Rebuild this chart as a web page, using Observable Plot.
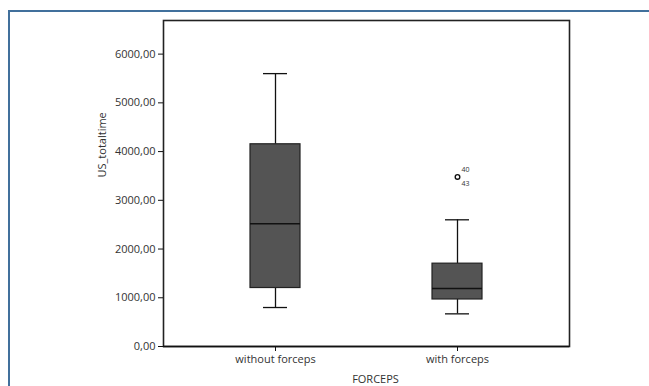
<!DOCTYPE html>
<html>
<head>
<meta charset="utf-8">
<script src="https://cdn.jsdelivr.net/npm/d3@7"></script>
<script src="https://cdn.jsdelivr.net/npm/@observablehq/plot@0.6"></script>
<style>
  html, body { margin: 0; padding: 0; background: #fff; }
  #wrap { position: relative; width: 649px; height: 386px; overflow: hidden; }
  #border { position: absolute; left: 8px; top: 10px; width: 700px; height: 420px;
            border-left: 2px solid #41709c; border-top: 2px solid #41709c; box-sizing: border-box; }
  #chart { position: absolute; left: 0; top: 0; }
</style>
</head>
<body>
<div id="wrap"><div id="border"></div><div id="chart"></div></div>
<script>
const categories = ["without forceps", "with forceps"];
const whiskerLow = [800, 670];
const q1 = [1200, 965];
const median = [2520, 1190];
const q3 = [4150, 1700];
const whiskerHigh = [5600, 2600];
const outlierCategory = ["with forceps"];
const outlierValue = [3480];
const outlierLabelTop = ["40"];
const outlierLabelBottom = ["43"];
const yTicks = [0, 1000, 2000, 3000, 4000, 5000, 6000];

const boxes = categories.map((c, i) => ({
  cat: c, lo: whiskerLow[i], q1: q1[i], med: median[i], q3: q3[i], hi: whiskerHigh[i]
}));
const outliers = outlierCategory.map((c, i) => ({
  cat: c, v: outlierValue[i], top: outlierLabelTop[i], bottom: outlierLabelBottom[i]
}));

const fmt = d => d.toFixed(2).replace(".", ",");

const chart = Plot.plot({
  width: 649,
  height: 386,
  marginLeft: 163,
  marginRight: 80,
  marginTop: 20,
  marginBottom: 40,
  style: { fontFamily: "'Open Sans', sans-serif", fontSize: "11px", color: "#333", background: "transparent" },
  x: { domain: categories, paddingInner: 0.7268, paddingOuter: 0.4727, label: null },
  y: { domain: [0, 6690], label: null },
  marks: [
    Plot.frame({ stroke: "#222", strokeWidth: 1.6 }),
    Plot.ruleX(boxes, { x: "cat", y1: "lo", y2: "q1", stroke: "#111", strokeWidth: 1.3 }),
    Plot.ruleX(boxes, { x: "cat", y1: "q3", y2: "hi", stroke: "#111", strokeWidth: 1.3 }),
    Plot.tickY(boxes, { x: "cat", y: "lo", stroke: "#111", strokeWidth: 1.3, insetLeft: 13, insetRight: 13 }),
    Plot.tickY(boxes, { x: "cat", y: "hi", stroke: "#111", strokeWidth: 1.3, insetLeft: 13, insetRight: 13 }),
    Plot.barY(boxes, { x: "cat", y1: "q1", y2: "q3", fill: "#545454", stroke: "#222", strokeWidth: 1.2 }),
    Plot.tickY(boxes, { x: "cat", y: "med", stroke: "#111", strokeWidth: 1.6 }),
    Plot.dot(outliers, { x: "cat", y: "v", r: 2.3, fill: "#fff", stroke: "#111", strokeWidth: 1.4 }),
    Plot.text(outliers, { x: "cat", y: "v", text: "top", dx: 4, dy: -7, textAnchor: "start", fontSize: 7, fill: "#333" }),
    Plot.text(outliers, { x: "cat", y: "v", text: "bottom", dx: 4, dy: 7, textAnchor: "start", fontSize: 7, fill: "#333" }),
    Plot.axisY({ ticks: yTicks, tickFormat: fmt, tickSize: 5, tickPadding: 3, label: null, stroke: "#111", fill: "#333", fontSize: 11 }),
    Plot.axisX({ tickSize: 5, tickPadding: 4, label: null, stroke: "#111", fill: "#333", fontSize: 11 }),
    Plot.ruleY([0], { stroke: "#111", strokeWidth: 1.6 }),
    Plot.text(["US_totaltime"], { frameAnchor: "left", dx: -61, dy: -6, rotate: -90, fontSize: 11, fill: "#333" }),
    Plot.text(["FORCEPS"], { frameAnchor: "bottom", dx: 9, dy: 36, fontSize: 11, fill: "#333" })
  ]
});
document.getElementById("chart").appendChild(chart);
</script>
</body>
</html>
